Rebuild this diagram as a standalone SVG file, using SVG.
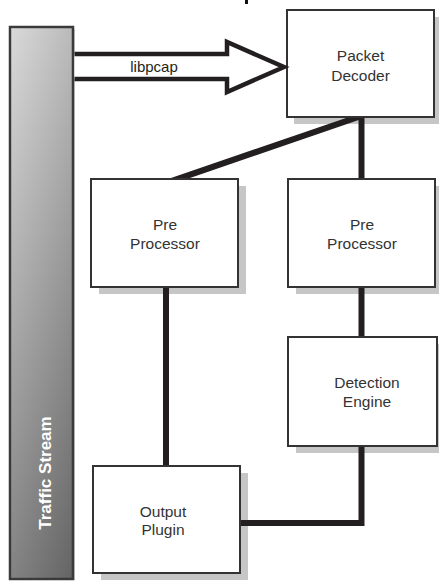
<svg xmlns="http://www.w3.org/2000/svg" width="439" height="581" viewBox="0 0 439 581">
  <style>
    .box { fill: #ffffff; stroke: #333333; stroke-width: 2; }
    .shadow { fill: #c6c6c6; }
    .label { font-family: "Liberation Sans", Arial, sans-serif; font-size: 15.5px; fill: #333333; text-anchor: middle; }
    .conn { fill: none; stroke: #231f20; stroke-width: 6; stroke-linejoin: miter; }
  </style>
  <defs>
    <linearGradient id="barV" x1="0" y1="0" x2="0" y2="1">
      <stop offset="0" stop-color="#d4d4d4"/>
      <stop offset="1" stop-color="#727272"/>
    </linearGradient>
    <linearGradient id="barH" x1="0" y1="0" x2="1" y2="0">
      <stop offset="0" stop-color="#ffffff" stop-opacity="0.12"/>
      <stop offset="1" stop-color="#000000" stop-opacity="0.12"/>
    </linearGradient>
  </defs>

  <rect x="0" y="0" width="439" height="581" fill="#ffffff"/>
  <rect x="245" y="0" width="3" height="4" fill="#111111"/>

  <g id="traffic-stream">
    <rect x="72" y="29" width="3" height="551" fill="#d8d8d8"/>
    <rect x="10" y="27" width="63" height="552" fill="url(#barV)" stroke="#3a3a3a" stroke-width="2.5"/>
    <rect x="11" y="28" width="61" height="550" fill="url(#barH)"/>
    <text transform="translate(51,473) rotate(-90)" font-family="Liberation Sans, Arial, sans-serif" font-size="17" font-weight="bold" fill="#ffffff" text-anchor="middle">Traffic Stream</text>
  </g>

  <g id="packet-decoder">
    <rect class="shadow" x="294" y="17" width="147" height="107"/>
    <rect class="box" x="287" y="10" width="147" height="107"/>
    <text class="label" x="360.5" y="61">Packet</text>
    <text class="label" x="360.5" y="81">Decoder</text>
  </g>

  <g id="pre-processor-left">
    <rect class="shadow" x="99" y="186" width="147" height="108"/>
    <rect class="box" x="91" y="179" width="147" height="108"/>
    <text class="label" x="165" y="230">Pre</text>
    <text class="label" x="165" y="249">Processor</text>
  </g>

  <g id="pre-processor-right">
    <rect class="shadow" x="296" y="186" width="147" height="108"/>
    <rect class="box" x="288" y="179" width="147" height="108"/>
    <text class="label" x="362" y="230">Pre</text>
    <text class="label" x="362" y="249">Processor</text>
  </g>

  <g id="detection-engine">
    <rect class="shadow" x="296" y="344" width="149" height="109"/>
    <rect class="box" x="288" y="337" width="149" height="109"/>
    <text class="label" x="367" y="388">Detection</text>
    <text class="label" x="367" y="407">Engine</text>
  </g>

  <g id="output-plugin">
    <rect class="shadow" x="101" y="473" width="147" height="107"/>
    <rect class="box" x="93" y="466" width="147" height="107"/>
    <text class="label" x="163" y="517">Output</text>
    <text class="label" x="163" y="535">Plugin</text>
  </g>

  <g id="connectors">
    <path d="M74.5,54 H227 V42 L284,67 L227,92 V79 H74.5" fill="#ffffff" stroke="#231f20" stroke-width="4.5" stroke-linejoin="miter" stroke-miterlimit="10"/>
    <text x="154" y="72" font-family="Liberation Sans, Arial, sans-serif" font-size="15" fill="#231f20" text-anchor="middle">libpcap</text>
    <line class="conn" x1="361.5" y1="118" x2="361.5" y2="178"/>
    <polygon points="364.5,118 346,118 171,178 190,178" fill="#231f20"/>
    <line class="conn" x1="166" y1="288" x2="166" y2="465"/>
    <line class="conn" x1="361.5" y1="288" x2="361.5" y2="336"/>
    <polyline class="conn" points="361.5,447 361.5,523 241,523"/>
  </g>
</svg>
